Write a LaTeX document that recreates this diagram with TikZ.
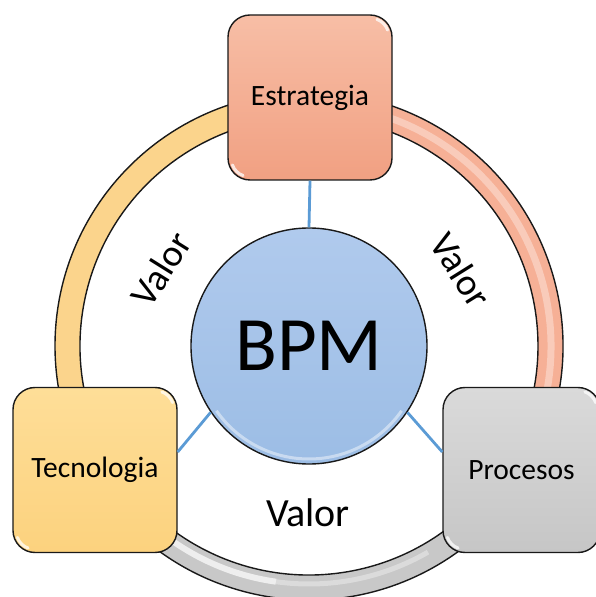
\documentclass[tikz,border=0pt]{standalone}
\usepackage{fontspec}
\setmainfont{Carlito}
\usetikzlibrary{calc}

\definecolor{edge}{RGB}{25,25,25}
\definecolor{linkblue}{RGB}{91,155,213}
\definecolor{stratTop}{RGB}{247,190,166}
\definecolor{stratBot}{RGB}{241,160,130}
\definecolor{tecTop}{RGB}{254,222,152}
\definecolor{tecBot}{RGB}{252,210,126}
\definecolor{proTop}{RGB}{218,218,218}
\definecolor{proBot}{RGB}{198,198,198}
\definecolor{bpmTop}{RGB}{176,202,237}
\definecolor{bpmBot}{RGB}{156,189,229}
\definecolor{ringYellow}{RGB}{251,212,140}
\definecolor{ringSalmon}{RGB}{246,176,150}
\definecolor{ringGray}{RGB}{200,200,200}

\begin{document}
\begin{tikzpicture}[x=1pt,y=1pt,
  box/.style={draw=edge, line width=1.4pt, rounded corners=22pt,
    minimum width=164pt, minimum height=165pt, inner sep=0pt,
    font=\fontsize{29.5}{32}\selectfont},
  link/.style={draw=linkblue, line width=2.8pt},
  valor/.style={font=\fontsize{38}{42}\selectfont, inner sep=0pt},
  ringedge/.style={draw=edge, line width=1.4pt},
  gloss/.style={draw=white, line width=3pt, opacity=0.75, line cap=round}]
\useasboundingbox (0,0) rectangle (596,597);
\clip (0,0) rectangle (596,597);

\coordinate (c) at (309,251);

% outer ring, three coloured segments
\path[ringedge, fill=ringYellow]
  ($(c)+(90:254)$) arc[start angle=90, end angle=210, radius=254]
  -- ($(c)+(210:229)$) arc[start angle=210, end angle=90, radius=229] -- cycle;
\path[ringedge, fill=ringSalmon]
  ($(c)+(-30:254)$) arc[start angle=-30, end angle=90, radius=254]
  -- ($(c)+(90:229)$) arc[start angle=90, end angle=-30, radius=229] -- cycle;
\draw[white, line width=7pt, opacity=0.35]
  ($(c)+(-30:242)$) arc[start angle=-30, end angle=90, radius=242];
\path[ringedge, fill=ringGray]
  ($(c)+(210:254)$) arc[start angle=210, end angle=330, radius=254]
  -- ($(c)+(330:229)$) arc[start angle=330, end angle=210, radius=229] -- cycle;
\draw[white, line width=6pt, opacity=0.7]
  ($(c)+(210:238)$) arc[start angle=210, end angle=262, radius=238];
\draw[white, line width=5pt, opacity=0.35]
  ($(c)+(262:238)$) arc[start angle=262, end angle=300, radius=238];

% central circle
\node[circle, draw=edge, line width=1.4pt, minimum size=236pt, inner sep=0pt,
  top color=bpmTop, bottom color=bpmBot,
  font=\fontsize{77}{82}\selectfont] (bpm) at (c) {BPM};
\draw[white, line width=3pt, opacity=0.45]
  ($(c)+(215:113)$) arc[start angle=215, end angle=325, radius=113];

% surrounding boxes
\node[box, top color=stratTop, bottom color=stratBot] (est) at (310,499.5) {Estrategia};
\node[box, top color=tecTop, bottom color=tecBot] (tec) at (95,127) {Tecnologia};
\node[box, minimum width=157pt, top color=proTop, bottom color=proBot] (pro) at (521.5,127) {Procesos};

% glossy corner highlights
\foreach \n in {est,tec,pro}{
  \draw[gloss] ($(\n.north east)+(-22,-22)+(20:18)$) arc[start angle=20, end angle=70, radius=18];
  \draw[gloss] ($(\n.south west)+(22,22)+(200:18)$) arc[start angle=200, end angle=250, radius=18];
}

% connectors
\draw[link] (est.south) -- (bpm.north);
\draw[link] (bpm.214.6) -- ([yshift=18pt]tec.east);
\draw[link] (bpm.-34.6) -- ([yshift=18pt]pro.west);

% labels on the ring
\node[valor, rotate=58] (v1) at (161,328) {Valor};
\node[valor, rotate=-58] (v2) at (461,327) {Valor};
\node[valor, font=\fontsize{40}{44}\selectfont] (v3) at (308,84) {Valor};
\end{tikzpicture}
\end{document}
